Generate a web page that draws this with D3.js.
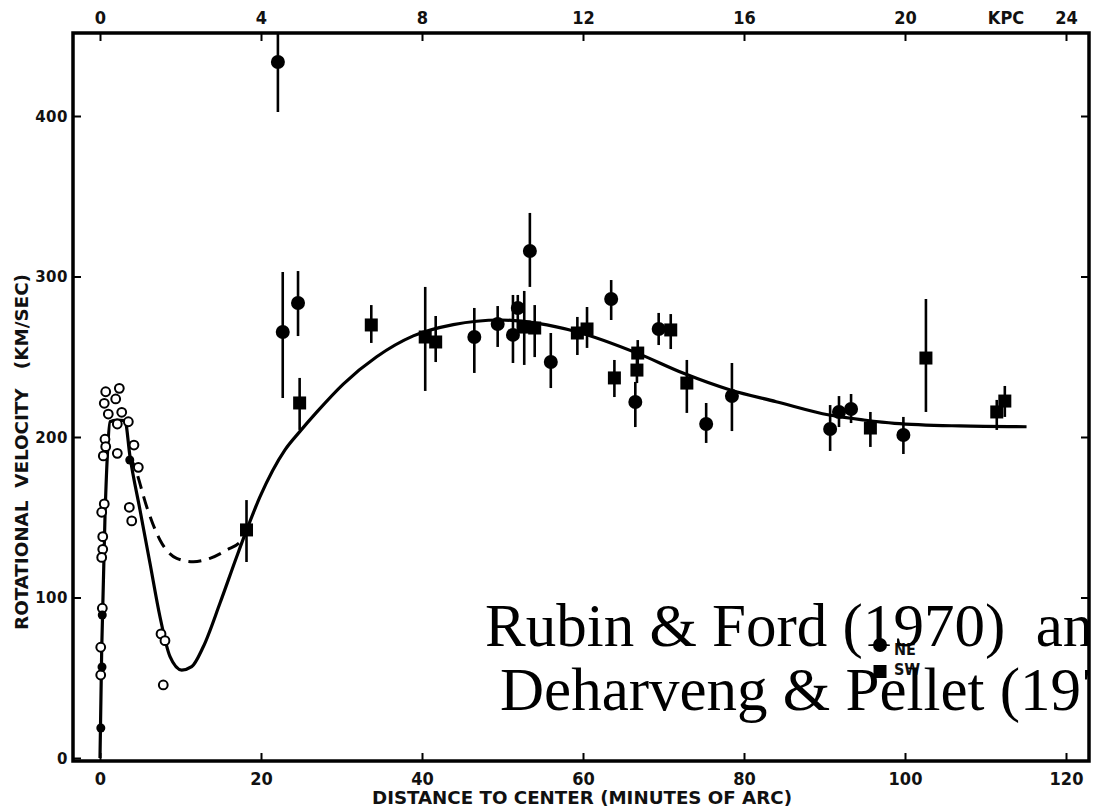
<!DOCTYPE html>
<html>
<head>
<meta charset="utf-8">
<script src="https://cdn.jsdelivr.net/npm/d3@7"></script>
<style>
  body { margin: 0; background: #fff; }
  svg { display: block; }
  .lbl { font-family: "Liberation Sans Narrow", "DejaVu Sans Condensed", "DejaVu Sans", sans-serif; font-stretch: condensed; fill: #111; }
  .note { font-family: "Liberation Serif", "DejaVu Serif", serif; fill: #000; white-space: pre; }
</style>
</head>
<body>
<div id="chart-area"></div>
<script>

//**************** Data *****************//

// NE side (filled circles): distance in arcmin, velocity km/s, error bar low / high
let neDist = [22.1, 22.7, 24.6, 46.5, 49.4, 51.3, 51.9, 53.4, 56.0, 63.5, 66.5, 69.4, 75.3, 78.5, 90.7, 91.8, 93.3, 99.8];
let neVel  = [433.6, 265.4, 283.5, 262.3, 270.4, 263.6, 280.4, 315.9, 246.7, 286.0, 221.8, 267.3, 208.1, 225.5, 205.0, 215.6, 217.4, 201.2];
let neLow  = [402.5, 224.3, 262.9, 239.9, 256.1, 246.1, 266.7, 293.5, 230.5, 272.9, 206.2, 257.3, 196.3, 203.7, 191.3, 206.2, 208.7, 189.4];
let neHigh = [455.0, 302.8, 303.4, 280.4, 281.6, 288.5, 288.5, 339.6, 264.8, 297.8, 234.3, 277.3, 221.2, 246.1, 219.9, 225.5, 226.8, 212.5];

// SW side (filled squares)
let swDist = [18.2, 24.8, 33.7, 40.4, 41.7, 52.7, 54.0, 59.3, 60.5, 63.9, 66.7, 66.8, 70.9, 72.9, 95.7, 102.6, 111.4, 112.4];
let swVel  = [142.1, 221.2, 269.8, 262.3, 259.2, 268.5, 267.9, 264.8, 267.3, 236.8, 241.7, 252.3, 266.7, 233.6, 205.6, 249.2, 215.6, 222.4];
let swLow  = [122.1, 204.4, 258.6, 228.7, 246.7, 244.9, 249.8, 251.1, 255.5, 224.9, 233.6, 243.6, 254.8, 215.0, 193.8, 215.6, 204.4, 212.5];
let swHigh = [160.7, 236.8, 282.2, 293.5, 275.4, 291.0, 282.2, 274.8, 281.0, 248.0, 252.3, 260.4, 276.6, 248.0, 215.6, 286.0, 223.1, 231.8];

// inner points (open circles)
let innerDist = [0.71, 2.40, 0.53, 1.95, 1.03, 2.70, 2.15, 3.52, 0.62, 0.71, 0.41, 2.15, 4.22, 4.76, 0.53, 0.21, 3.64, 3.94, 0.34, 0.34, 0.21, 0.29, 0.09, 0.09, 7.58, 8.07, 7.86];
let innerVel  = [228.2, 230.3, 221.0, 223.7, 214.3, 215.4, 208.1, 209.5, 198.6, 194.0, 188.2, 189.8, 195.0, 181.1, 158.3, 153.1, 156.2, 147.7, 137.9, 130.0, 125.0, 93.3, 69.0, 51.7, 77.3, 73.1, 45.5];

// inner points drawn solid
let dotDist = [0.10, 0.25, 0.28, 3.70];
let dotVel  = [18.7, 56.7, 89.1, 185.7];

// fitted rotation curve (solid)
let fitDist = [0, 0.21, 0.62, 0.95, 1.24, 2.07, 3.1, 3.73, 4.97, 6.21, 7.45, 8.7, 10.15, 11.39, 12.83, 14.9, 16.98, 18.22, 19.88,
  22.98, 24.84, 26.92, 30.22, 34.37, 38.92, 43.89, 49.69, 54.4, 59.2, 66.8, 72.5, 78.3, 84.0, 90.6, 94.9, 98.7, 106.8, 115.1];
let fitVel  = [0, 67, 150.3, 191.9, 209.5, 210.6, 210.2, 187.7, 154.5, 121.3, 88.0, 63.1, 54.8, 56.9, 69.3, 96.4, 125.4, 142.1, 162.8,
  192, 203.5, 215.5, 233, 250, 263, 270, 272.9, 270.8, 265.6, 252.1, 239.7, 229.3, 222.0, 213.7, 210.6, 208.5, 206.9, 206.4];

// alternative inner curve (dashed)
let altDist = [3.73, 4.35, 5.8, 7.45, 9.53, 11.59, 13.66, 15.74, 17.6, 18.22];
let altVel  = [187.7, 180.7, 156.6, 135.8, 124.4, 122.3, 124.4, 129.6, 135.8, 142.1];

let arcTicks = [0, 20, 40, 60, 80, 100, 120];
let velTicks = [0, 100, 200, 300, 400];
let kpcTicks = [0, 4, 8, 12, 16, 20, 24];


//**************** Canvas *****************//

let width = 1096, height = 807;
let frame = { left: 73, right: 1089, top: 33, bottom: 761 };

let svg = d3.select('#chart-area').append('svg')
  .attr('width', width)
  .attr('height', height);

let x = d3.scaleLinear().domain([0, 120]).range([100, 1066]);
let y = d3.scaleLinear().domain([0, 400]).range([758, 116]);

let defs = svg.append('defs');
defs.append('clipPath').attr('id', 'plot-clip')
  .append('rect')
  .attr('x', frame.left).attr('y', frame.top)
  .attr('width', frame.right - frame.left).attr('height', frame.bottom - frame.top);
defs.append('clipPath').attr('id', 'page-clip')
  .append('rect')
  .attr('x', 0).attr('y', 0)
  .attr('width', frame.right + 1).attr('height', height);


//**************** Axes *****************//

// bottom: minutes of arc
let xAxisGroup = svg.append('g')
  .attr('transform', 'translate(0,' + frame.bottom + ')')
  .call(d3.axisBottom(x).tickValues(arcTicks).tickSize(-8).tickPadding(0));
xAxisGroup.selectAll('text').attr('class', 'lbl').attr('font-size', 18)
  .attr('y', 11).attr('dy', '0.71em');

// top: kpc (1 kpc = 5 arcmin)
let topAxisGroup = svg.append('g')
  .attr('transform', 'translate(0,' + frame.top + ')')
  .call(d3.axisTop(x).tickValues(kpcTicks.map(k => k * 5)).tickFormat(d => d / 5).tickSize(-8).tickPadding(0));
topAxisGroup.selectAll('text').attr('class', 'lbl').attr('font-size', 18)
  .attr('y', -9).attr('dy', 0);

// left: velocity
let yAxisGroup = svg.append('g')
  .attr('transform', 'translate(' + frame.left + ',0)')
  .call(d3.axisLeft(y).tickValues(velTicks).tickSize(-8).tickPadding(0));
yAxisGroup.selectAll('text')
  .attr('x', -5).attr('dy', '0.36em')
  .attr('font-family', '"DejaVu Sans", sans-serif')
  .attr('font-size', 15).attr('font-weight', 'bold').attr('letter-spacing', 0.5)
  .attr('fill', '#111');

// right: plain ticks
let rightAxisGroup = svg.append('g')
  .attr('transform', 'translate(' + frame.right + ',0)')
  .call(d3.axisRight(y).tickValues(velTicks.slice(1)).tickSize(-8).tickFormat(''));

svg.selectAll('.domain').remove();
svg.selectAll('.tick line').attr('stroke', '#000').attr('stroke-width', 2);
xAxisGroup.selectAll('text').attr('font-weight', 'bold');
topAxisGroup.selectAll('text').attr('font-weight', 'bold');

// frame
svg.append('rect')
  .attr('x', frame.left).attr('y', frame.top)
  .attr('width', frame.right - frame.left).attr('height', frame.bottom - frame.top)
  .attr('fill', 'none').attr('stroke', '#000').attr('stroke-width', 3.5);

svg.append('text').attr('class', 'lbl')
  .attr('x', 1006).attr('y', frame.top - 9)
  .attr('text-anchor', 'middle').attr('font-size', 18).attr('font-weight', 'bold')
  .text('KPC');

svg.append('text').attr('class', 'lbl')
  .attr('x', 582).attr('y', 804)
  .attr('text-anchor', 'middle').attr('font-size', 18).attr('font-weight', 'bold')
  .attr('textLength', 420).attr('lengthAdjust', 'spacingAndGlyphs')
  .text('DISTANCE TO CENTER (MINUTES OF ARC)');

svg.append('text').attr('class', 'lbl')
  .attr('transform', 'translate(28,452) rotate(-90)')
  .attr('text-anchor', 'middle').attr('font-size', 17).attr('font-weight', 'bold')
  .attr('textLength', 356).attr('lengthAdjust', 'spacingAndGlyphs')
  .style('white-space', 'pre')
  .text('ROTATIONAL  VELOCITY   (KM/SEC)');


//**************** Curves *****************//

let plot = svg.append('g').attr('clip-path', 'url(#plot-clip)');

let line = d3.line()
  .x(d => x(d[0]))
  .y(d => y(d[1]))
  .curve(d3.curveMonotoneX);

plot.append('path')
  .attr('d', line(d3.zip(fitDist, fitVel)))
  .attr('fill', 'none').attr('stroke', '#000').attr('stroke-width', 3.2);

plot.append('path')
  .attr('d', line(d3.zip(altDist, altVel)))
  .attr('fill', 'none').attr('stroke', '#000').attr('stroke-width', 3)
  .attr('stroke-dasharray', '13,8');


//**************** Points *****************//

let ne = d3.zip(neDist, neVel, neLow, neHigh);
let sw = d3.zip(swDist, swVel, swLow, swHigh);

plot.selectAll('.err')
  .data(ne.concat(sw))
  .enter().append('line')
  .attr('class', 'err')
  .attr('x1', d => x(d[0])).attr('x2', d => x(d[0]))
  .attr('y1', d => y(d[2])).attr('y2', d => y(d[3]))
  .attr('stroke', '#000').attr('stroke-width', 2.6);

plot.selectAll('.ne')
  .data(ne)
  .enter().append('circle')
  .attr('class', 'ne')
  .attr('cx', d => x(d[0])).attr('cy', d => y(d[1]))
  .attr('r', 7)
  .attr('fill', '#000');

plot.selectAll('.sw')
  .data(sw)
  .enter().append('rect')
  .attr('class', 'sw')
  .attr('x', d => x(d[0]) - 6.5).attr('y', d => y(d[1]) - 6.5)
  .attr('width', 13).attr('height', 13)
  .attr('fill', '#000');

plot.selectAll('.inner')
  .data(d3.zip(innerDist, innerVel))
  .enter().append('circle')
  .attr('class', 'inner')
  .attr('cx', d => x(d[0])).attr('cy', d => y(d[1]))
  .attr('r', 4.4)
  .attr('fill', '#fff').attr('stroke', '#000').attr('stroke-width', 2);

plot.selectAll('.dot')
  .data(d3.zip(dotDist, dotVel))
  .enter().append('circle')
  .attr('class', 'dot')
  .attr('cx', d => x(d[0])).attr('cy', d => y(d[1]))
  .attr('r', 4.5)
  .attr('fill', '#000');


//**************** Legend *****************//

let legend = svg.append('g').attr('transform', 'translate(880,645)');
legend.append('circle').attr('r', 7).attr('fill', '#000');
legend.append('text').attr('class', 'lbl')
  .attr('x', 14).attr('y', 10).attr('font-size', 16).attr('font-weight', 'bold')
  .text('NE');
legend.append('rect').attr('x', -6.5).attr('y', 20).attr('width', 13).attr('height', 13).attr('fill', '#000');
legend.append('text').attr('class', 'lbl')
  .attr('x', 14).attr('y', 30).attr('font-size', 16).attr('font-weight', 'bold')
  .text('SW');


//**************** Overlay caption *****************//

let caption = svg.append('g').attr('clip-path', 'url(#page-clip)');

caption.append('text').attr('class', 'note')
  .attr('x', 485).attr('y', 646).attr('font-size', 61)
  .text('Rubin & Ford (1970)  and');

caption.append('text').attr('class', 'note')
  .attr('x', 500).attr('y', 710).attr('font-size', 61)
  .text('Deharveng & Pellet (1975)');

</script>
</body>
</html>
